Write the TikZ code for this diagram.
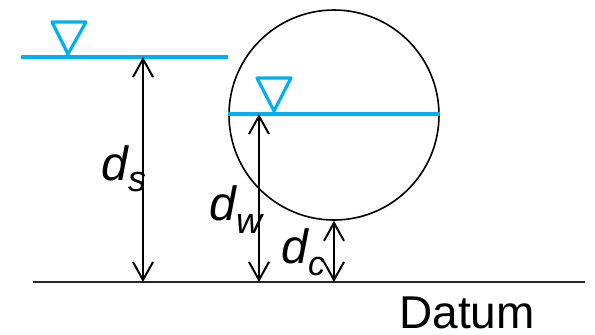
\documentclass[tikz,border=0pt]{standalone}
\usepackage{fontspec}
\setmainfont{Liberation Sans}
\usetikzlibrary{arrows.meta}
\definecolor{water}{RGB}{0,176,240}

\begin{document}
\begin{tikzpicture}[x=0.5pt,y=-0.5pt,
  surface/.style={water, line width=1.6pt},
  level/.style={water, line width=1.6pt, line join=round},
  dim/.style={line width=1pt, {Straight Barb[length=9pt,width=10pt]}-{Straight Barb[length=9pt,width=10pt]}},
  lbl/.style={inner sep=0, anchor=base west, font=\fontsize{24}{24}\selectfont\itshape}]
  \useasboundingbox (0,0) rectangle (595,334);
  % datum and pipe
  \coordinate (datumL) at (33,282);
  \coordinate (datumR) at (585,282);
  \draw[line width=0.8pt, black!85] (datumL) -- (datumR);
  \node[draw, circle, line width=0.8pt, minimum size=105pt, inner sep=0] (pipe) at (334,115) {};
  % free surface, left
  \coordinate (sL) at (21,57);
  \coordinate (sR) at (228,57);
  \draw[surface] (sL) -- (sR);
  \draw[level] (52,22) -- (86,22) -- (68,54) -- cycle;
  % water in the pipe
  \coordinate (wL) at (228,114);
  \coordinate (wR) at (440,114);
  \draw[surface] (wL) -- (wR);
  \draw[level] (257,78) -- (291,78) -- (274,111) -- cycle;
  % heights
  \coordinate (ds) at (143,57);
  \coordinate (dw) at (259,114);
  \draw[dim] (ds) -- (ds |- datumL);
  \draw[dim] (dw) -- (dw |- datumL);
  \draw[dim] (pipe.south) -- (pipe.south |- datumL);
  \node[lbl] (ldS) at (101,180) {d\raisebox{-5.5pt}{\fontsize{18}{18}\selectfont s}};
  \node[lbl] (ldW) at (209,220) {d\raisebox{-6.5pt}{\fontsize{18}{18}\selectfont w}};
  \node[lbl] (ldC) at (281,263) {d\raisebox{-6pt}{\fontsize{17}{17}\selectfont c}};
  \node[inner sep=0, anchor=base west, font=\fontsize{23}{23}\selectfont] (datum) at (399,328) {Datum};
\end{tikzpicture}
\end{document}
